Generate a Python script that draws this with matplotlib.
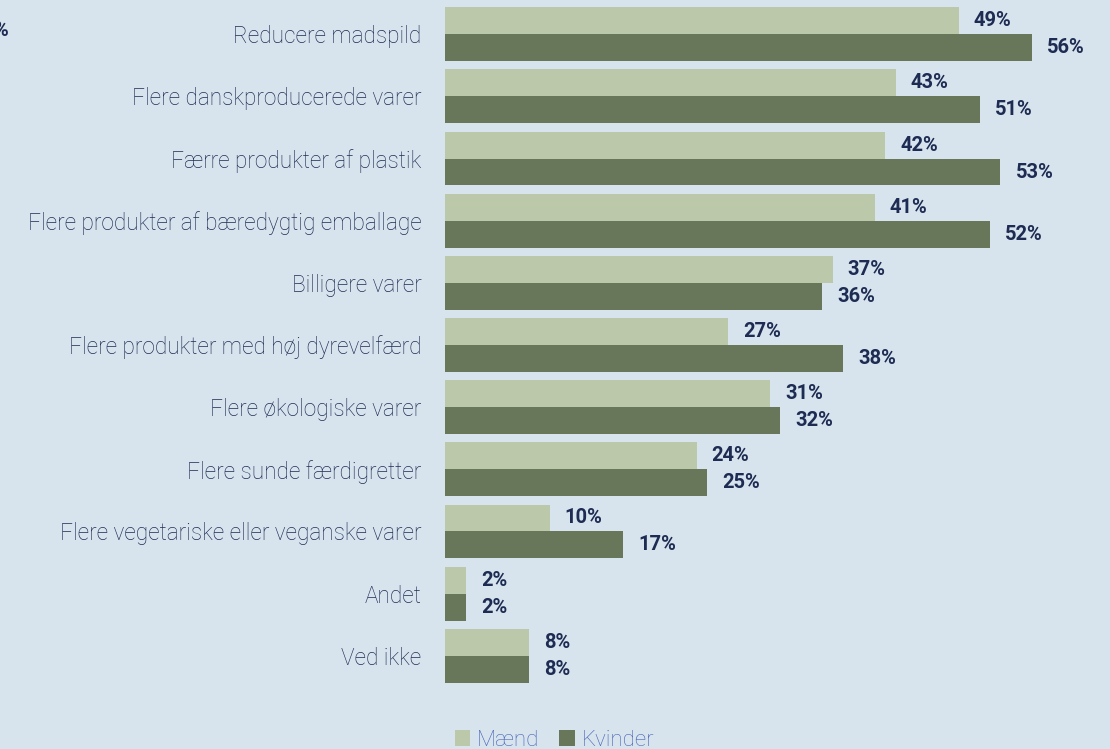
import numpy as np
import matplotlib.pyplot as plt

categories = [
    "Reducere madspild",
    "Flere danskproducerede varer",
    "Færre produkter af plastik",
    "Flere produkter af bæredygtig emballage",
    "Billigere varer",
    "Flere produkter med høj dyrevelfærd",
    "Flere økologiske varer",
    "Flere sunde færdigretter",
    "Flere vegetariske eller veganske varer",
    "Andet",
    "Ved ikke",
]
maend = [49, 43, 42, 41, 37, 27, 31, 24, 10, 2, 8]
kvinder = [56, 51, 53, 52, 36, 38, 32, 25, 17, 2, 8]
series_names = ["Mænd", "Kvinder"]

bg = "#d7e4ee"
light = "#bbc8a9"
dark = "#68765a"
navy = "#1e2b52"

plt.rcParams['font.family'] = ['Roboto', 'DejaVu Sans']

fig = plt.figure(figsize=(11.1, 7.49), dpi=100, facecolor=bg)
ax = fig.add_axes([445 / 1110, 59 / 749, 665 / 1110, 690 / 749])
ax.set_facecolor(bg)

y = np.arange(len(categories))
h = 0.434
b1 = ax.barh(y - h / 2, maend, height=h, color=light, label=series_names[0])
b2 = ax.barh(y + h / 2, kvinder, height=h, color=dark, label=series_names[1])

for bars, vals in ((b1, maend), (b2, kvinder)):
    for bar, v in zip(bars, vals):
        ax.annotate(f"{v}%", (bar.get_width(), bar.get_y() + bar.get_height() / 2),
                    xytext=(15, 0), textcoords="offset pixels", va="center",
                    ha="left", fontsize=14.5, fontweight="bold", color=navy)

ax.set_xlim(0, 63.45)
ax.set_ylim(len(categories) - 0.45, -0.55)
ax.set_yticks(y)
ax.set_yticklabels(categories, fontsize=16.3, color=navy, fontweight="light")
ax.tick_params(axis="y", length=0, pad=17)
ax.set_xticks([])
for s in ax.spines.values():
    s.set_visible(False)

leg = fig.legend(loc="lower left", bbox_to_anchor=(446 / 1110, -0.014), ncol=2,
                 frameon=False, handlelength=0.7, handleheight=0.7,
                 handletextpad=0.3, columnspacing=0.9, borderaxespad=0,
                 fontsize=16)
for t in leg.get_texts():
    t.set_color("#4864b6")
    t.set_fontweight("light")

# cut-off label at the left edge of the original picture
fig.text(-0.006, 1 - 30 / 749, "%", fontsize=14.5, fontweight="bold",
         color=navy, va="center", ha="left")

fig.savefig("out.png", dpi=100, facecolor=bg)
